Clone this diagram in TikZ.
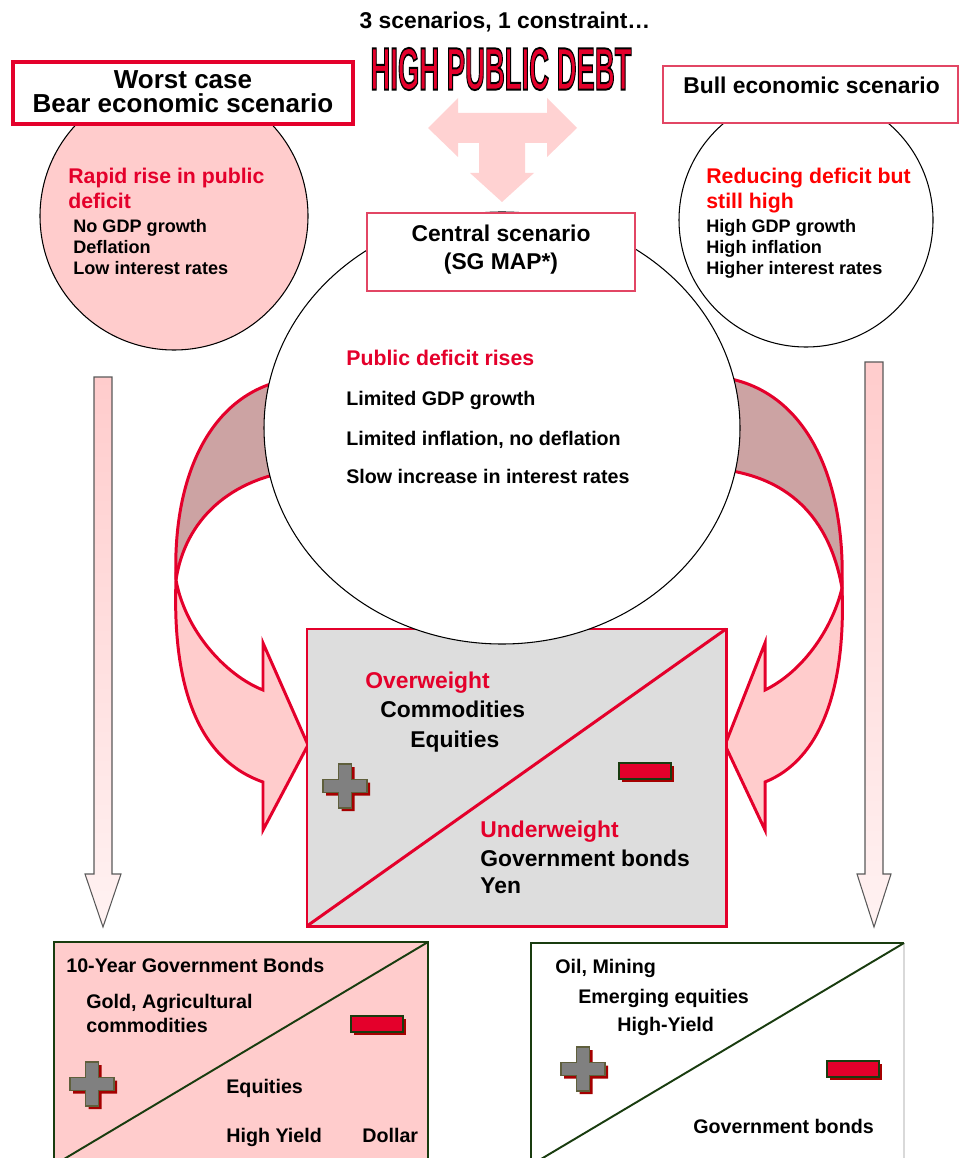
\documentclass[tikz,border=0pt]{standalone}
\usepackage{fontspec}
\setmainfont{Liberation Sans}
\definecolor{sgred}{RGB}{228,0,43}
\definecolor{boxred}{RGB}{226,70,100}
\definecolor{pinkfill}{RGB}{255,204,204}
\definecolor{palepink}{RGB}{255,242,242}
\definecolor{tpink}{RGB}{255,210,210}
\definecolor{backpink}{RGB}{204,163,163}
\definecolor{boxgray}{RGB}{221,221,221}
\definecolor{darkgreen}{RGB}{25,60,15}
\definecolor{shadowred}{RGB}{165,0,0}
\definecolor{plusgray}{RGB}{128,128,128}
\definecolor{plusedge}{RGB}{95,95,60}
\begin{document}
\begin{tikzpicture}[x=0.02cm, y=-0.02cm,
    bodytext/.style={anchor=base west, inner sep=0pt, font=\bfseries\fontsize{10.3}{12}\selectfont},
    midtext/.style={bodytext, font=\bfseries\fontsize{11.2}{13}\selectfont},
    headtext/.style={bodytext, font=\bfseries\fontsize{12.1}{14}\selectfont, text=sgred},
    boxtext/.style={bodytext, font=\bfseries\fontsize{13}{15}\selectfont},
    debttext/.style={inner sep=0pt, font=\bfseries\fontsize{34}{36}\selectfont},
    redline/.style={draw=sgred, line width=1.7pt},
    greenline/.style={draw=darkgreen, line width=1.1pt},
    fadearrow/.style={top color=pinkfill, bottom color=palepink, draw=black!65, line width=0.6pt}]
    \useasboundingbox (0,0) rectangle (960,1158);
    \clip (0,0) rectangle (960,1158);

    % 見出し
    \node[boxtext, anchor=base] (title) at (505,29) {3 scenarios, 1 constraint…};
    \node[debttext, text=sgred] (debt) at (501,69)
        {\special{pdf:literal direct 2 Tr 0 0 0 RG 1.1 w}\scalebox{0.46}[1]{HIGH PUBLIC DEBT}\special{pdf:literal direct 0 Tr}};
    \fill[tpink] (428,128) -- (458,98) -- (458,113) -- (547,113) -- (547,98) -- (577,128) -- (547,157)
        -- (547,143) -- (525,143) -- (525,173) -- (534,173) -- (502,202) -- (470,173) -- (479,173)
        -- (479,143) -- (458,143) -- (458,157) -- cycle;

    % 左右のシナリオ
    \draw[fill=pinkfill, line width=0.6pt] (174,216) circle [radius=134];
    \draw[fill=white, line width=0.6pt] (806,220) circle [radius=127];
    \draw[fill=white, draw=sgred, line width=1.8pt] (13,62) rectangle (353,124);
    \draw[fill=white, draw=boxred, line width=0.8pt] (663,66) rectangle (958,123);
    \node[boxtext, anchor=base, font=\bfseries\fontsize{14.8}{15}\selectfont] (worst) at (183,89) {Worst case};
    \node[boxtext, anchor=base, font=\bfseries\fontsize{14.8}{15}\selectfont] (bear) at (183,113) {Bear economic scenario};
    \node[boxtext] (bull) at (683,94) {Bull economic scenario};
    \node[headtext] (bearhead1) at (68,184) {Rapid rise in public};
    \node[headtext] (bearhead2) at (68,209) {deficit};
    \foreach \t/\y [count=\i] in {No GDP growth/233, Deflation/254, Low interest rates/275}
        \node[bodytext] (bearline\i) at (73,\y) {\t};
    \node[headtext, text=red] (bullhead1) at (706,184) {Reducing deficit but};
    \node[headtext, text=red] (bullhead2) at (706,209) {still high};
    \foreach \t/\y [count=\i] in {High GDP growth/233, High inflation/254, Higher interest rates/275}
        \node[bodytext] (bullline\i) at (706,\y) {\t};

    % 下向きの矢印
    \shadedraw[fadearrow] (94,377) -- (112,377) -- (112,874) -- (121,874) -- (103,927) -- (85,874) -- (94,874) -- cycle;
    \shadedraw[fadearrow] (865,362) -- (883,362) -- (883,874) -- (891,874) -- (874,927) -- (857,874) -- (865,874) -- cycle;

    % 曲がった矢印 (裏側と表側)
    \filldraw[fill=backpink, redline] (300,378) .. controls (215,385) and (172,470) .. (176,580)
        .. controls (185,520) and (230,478) .. (300,470) -- cycle;
    \filldraw[fill=pinkfill, redline] (176,580) .. controls (172,690) and (200,760) .. (263,782)
        -- (263,830) -- (308,745) -- (263,643) -- (263,690) .. controls (225,675) and (185,630) .. cycle;
    \filldraw[fill=backpink, redline] (705,376) .. controls (800,378) and (846,470) .. (842,588)
        .. controls (830,520) and (790,472) .. (705,468) -- cycle;
    \filldraw[fill=pinkfill, redline] (842,588) .. controls (846,690) and (820,760) .. (765,782)
        -- (765,830) -- (725,745) -- (765,643) -- (765,690) .. controls (802,672) and (832,630) .. cycle;

    % 中央の配分
    \filldraw[fill=boxgray, redline] (307,629) rectangle (726,926);
    \draw[redline] (307,926) -- (726,629);

    % 中央シナリオ
    \draw[fill=white, line width=0.6pt] (502,428) ellipse [x radius=238, y radius=216];
    \draw[fill=white, draw=boxred, line width=0.8pt] (367,213) rectangle (635,291);
    \node[boxtext, anchor=base] (central) at (501,242) {Central scenario};
    \node[boxtext, anchor=base] (sgmap) at (501,270) {(SG MAP*)};
    \node[headtext] (centralhead) at (346,365) {Public deficit rises};
    \foreach \t/\y [count=\i] in {Limited GDP growth/405, {Limited inflation, no deflation}/445, Slow increase in interest rates/483}
        \node[midtext] (centralline\i) at (346,\y) {\t};
    \node[boxtext, text=sgred] (over) at (365,688) {Overweight};
    \node[boxtext] (commo) at (380,717) {Commodities};
    \node[boxtext] (equi) at (410,747) {Equities};
    \node[boxtext, text=sgred] (under) at (480,837) {Underweight};
    \node[boxtext] (govb) at (480,866) {Government bonds};
    \node[boxtext] (yen) at (480,893) {Yen};

    % 下の二つの箱
    \fill[pinkfill] (54,942) rectangle (428,1165);
    \draw[greenline] (54,1165) -- (54,942) -- (428,942) -- (428,1165);
    \draw[greenline] (54,1165) -- (428,942);
    \fill[white] (531,943) rectangle (904,1165);
    \draw[greenline] (531,1165) -- (531,943) -- (904,943);
    \draw[black!15, line width=0.6pt] (904,943) -- (904,1165);
    \draw[greenline] (531,1165) -- (904,943);
    \node[midtext] (bondsten) at (66,972) {10-Year Government Bonds};
    \node[midtext] (gold1) at (86,1008) {Gold, Agricultural};
    \node[midtext] (gold2) at (86,1032) {commodities};
    \node[midtext] (bearequi) at (226,1093) {Equities};
    \node[midtext] (hy) at (226,1142) {High Yield};
    \node[midtext] (dollar) at (362,1142) {Dollar};
    \node[midtext] (oil) at (555,973) {Oil, Mining};
    \node[midtext] (emerg) at (578,1003) {Emerging equities};
    \node[midtext] (hyield) at (617,1031) {High-Yield};
    \node[midtext] (bullgovb) at (693,1133) {Government bonds};

    % プラスとマイナス
    \foreach \px/\py in {345/786, 92/1084, 583/1069} {
        \begin{scope}[shift={(\px+3,\py+3)}]
            \fill[shadowred] (-6.5,-22) -- (6.5,-22) -- (6.5,-6.5) -- (22,-6.5) -- (22,6.5) -- (6.5,6.5) -- (6.5,22)
                -- (-6.5,22) -- (-6.5,6.5) -- (-22,6.5) -- (-22,-6.5) -- (-6.5,-6.5) -- cycle;
        \end{scope}
        \begin{scope}[shift={(\px,\py)}]
            \filldraw[fill=plusgray, draw=plusedge, line width=0.7pt] (-6.5,-22) -- (6.5,-22) -- (6.5,-6.5) -- (22,-6.5)
                -- (22,6.5) -- (6.5,6.5) -- (6.5,22) -- (-6.5,22) -- (-6.5,6.5) -- (-22,6.5) -- (-22,-6.5) -- (-6.5,-6.5) -- cycle;
        \end{scope}
    }
    \foreach \px/\py in {645/771, 377/1024, 853/1069} {
        \fill[shadowred] (\px-23,\py-5) rectangle (\px+29,\py+11);
        \filldraw[fill=sgred, draw=darkgreen, line width=1.3pt] (\px-26,\py-8) rectangle (\px+26,\py+8);
    }
\end{tikzpicture}
\end{document}
